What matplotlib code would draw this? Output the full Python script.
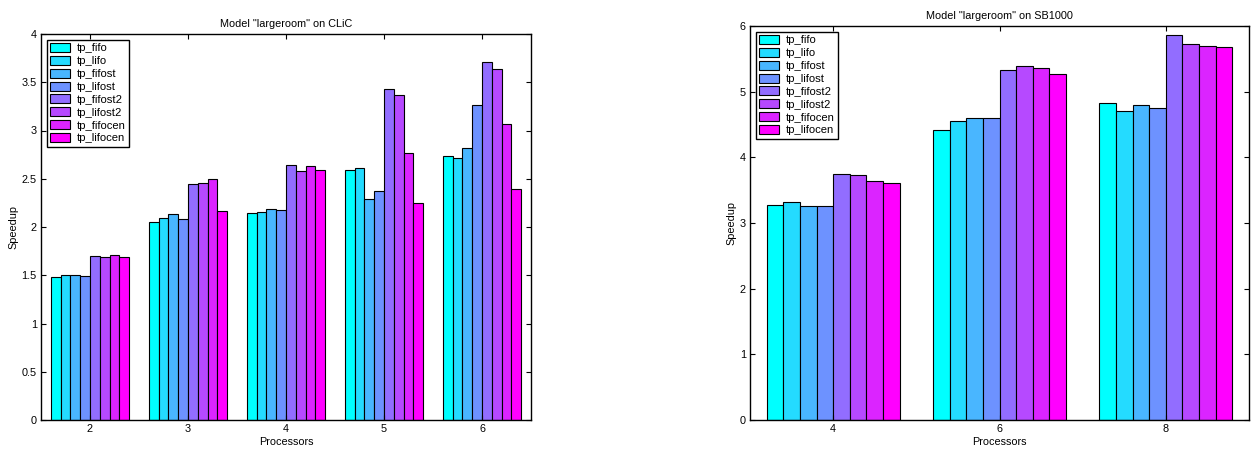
import numpy as np
import matplotlib
matplotlib.use("Agg")
import matplotlib.pyplot as plt
from matplotlib.ticker import FuncFormatter

plt.rcParams['font.family'] = ['Liberation Sans', 'DejaVu Sans']
plt.rcParams['font.size'] = 7.8

series = ['tp_fifo', 'tp_lifo', 'tp_fifost', 'tp_lifost',
          'tp_fifost2', 'tp_lifost2', 'tp_fifocen', 'tp_lifocen']

# Model "largeroom" on CLiC
clic_procs = [2, 3, 4, 5, 6]
clic_fifo = [1.48, 2.05, 2.14, 2.59, 2.74]
clic_lifo = [1.50, 2.09, 2.16, 2.61, 2.72]
clic_fifost = [1.50, 2.13, 2.19, 2.29, 2.82]
clic_lifost = [1.495, 2.08, 2.18, 2.37, 3.26]
clic_fifost2 = [1.695, 2.445, 2.645, 3.43, 3.71]
clic_lifost2 = [1.69, 2.46, 2.585, 3.37, 3.64]
clic_fifocen = [1.705, 2.50, 2.63, 2.77, 3.07]
clic_lifocen = [1.685, 2.17, 2.59, 2.245, 2.39]

# Model "largeroom" on SB1000
sb_procs = [4, 6, 8]
sb_fifo = [3.27, 4.42, 4.82]
sb_lifo = [3.32, 4.56, 4.70]
sb_fifost = [3.255, 4.60, 4.80]
sb_lifost = [3.26, 4.60, 4.755]
sb_fifost2 = [3.75, 5.335, 5.87]
sb_lifost2 = [3.725, 5.385, 5.725]
sb_fifocen = [3.645, 5.355, 5.695]
sb_lifocen = [3.61, 5.27, 5.68]

clic = [clic_fifo, clic_lifo, clic_fifost, clic_lifost,
        clic_fifost2, clic_lifost2, clic_fifocen, clic_lifocen]
sb = [sb_fifo, sb_lifo, sb_fifost, sb_lifost,
      sb_fifost2, sb_lifost2, sb_fifocen, sb_lifocen]

colors = plt.cm.cool(np.linspace(0, 1, len(series)))


def draw(ax, procs, data, step, title, ylim, ystep):
	n = len(series)
	w = 0.8 * step / n
	x = np.array(procs, dtype=float)
	for i, vals in enumerate(data):
		off = (i - (n - 1) / 2) * w
		ax.bar(x + off, vals, width=w, color=colors[i], edgecolor='black',
			   linewidth=0.8, label=series[i])
	ax.set_xlim(procs[0] - step / 2, procs[-1] + step / 2)
	ax.set_ylim(0, ylim)
	ax.set_xticks(procs)
	ax.set_yticks(np.arange(0, ylim + 0.001, ystep))
	ax.yaxis.set_major_formatter(FuncFormatter(lambda v, p: '%g' % v))
	ax.tick_params(direction='in', top=True, right=True, length=3.5, width=0.8, pad=3)
	for s in ax.spines.values():
		s.set_linewidth(1.0)
	ax.set_title(title, fontsize=7.8, pad=5)
	ax.set_xlabel('Processors', labelpad=2)
	ax.set_ylabel('Speedup', labelpad=2)
	leg = ax.legend(loc='upper left', bbox_to_anchor=(0.0, 1.0), borderaxespad=0.5,
					fancybox=False, framealpha=1, edgecolor='black', fontsize=8.1,
					handlelength=1.8, handleheight=0.85, labelspacing=0.22,
					borderpad=0.3, handletextpad=0.6)
	leg.get_frame().set_linewidth(1.0)


fig = plt.figure(figsize=(12.55, 4.5), dpi=100)
ax1 = fig.add_axes([41 / 1255, 30 / 450, 490 / 1255, 386 / 450])
ax2 = fig.add_axes([750 / 1255, 30 / 450, 499 / 1255, 394 / 450])

draw(ax1, clic_procs, clic, 1, 'Model "largeroom" on CLiC', 4, 0.5)
draw(ax2, sb_procs, sb, 2, 'Model "largeroom" on SB1000', 6, 1)

fig.savefig('out.png', dpi=100)
